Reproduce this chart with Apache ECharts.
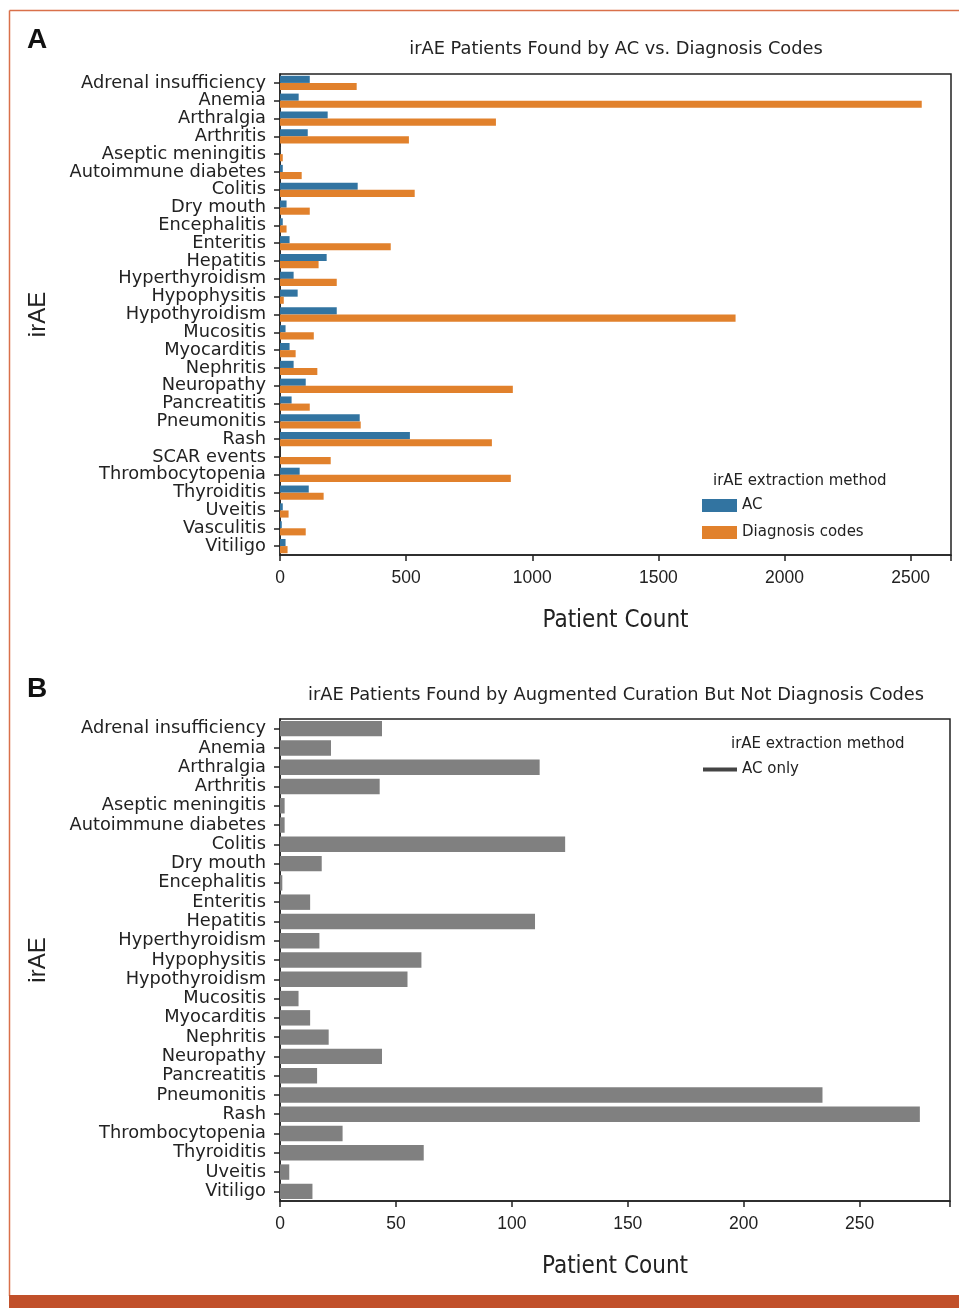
<!DOCTYPE html>
<html><head><meta charset="utf-8">
<script src="https://cdn.jsdelivr.net/npm/echarts@6/dist/echarts.min.js"></script>
<style>html,body{margin:0;padding:0;background:#fff}#c{width:959px;height:1308px}</style>
</head><body><div id="c"></div>
<script>
const categoriesA = ['Adrenal insufficiency','Anemia','Arthralgia','Arthritis','Aseptic meningitis','Autoimmune diabetes','Colitis','Dry mouth','Encephalitis','Enteritis','Hepatitis','Hyperthyroidism','Hypophysitis','Hypothyroidism','Mucositis','Myocarditis','Nephritis','Neuropathy','Pancreatitis','Pneumonitis','Rash','SCAR events','Thrombocytopenia','Thyroiditis','Uveitis','Vasculitis','Vitiligo'];
const acValues = [118,74,189,110,1,11,308,26,11,38,185,54,70,225,22,38,54,102,46,316,515,0,78,114,11,7,22];
const dxValues = [304,2544,856,511,11,86,534,118,26,439,153,225,15,1806,134,62,148,923,118,320,840,201,915,173,34,102,30];
const categoriesB = ['Adrenal insufficiency','Anemia','Arthralgia','Arthritis','Aseptic meningitis','Autoimmune diabetes','Colitis','Dry mouth','Encephalitis','Enteritis','Hepatitis','Hyperthyroidism','Hypophysitis','Hypothyroidism','Mucositis','Myocarditis','Nephritis','Neuropathy','Pancreatitis','Pneumonitis','Rash','Thrombocytopenia','Thyroiditis','Uveitis','Vitiligo'];
const acOnlyValues = [44,22,112,43,2,2,123,18,1,13,110,17,61,55,8,13,21,44,16,234,276,27,62,4,14];
const ticksA = [0,500,1000,1500,2000,2500];
const ticksB = [0,50,100,150,200,250];

const FONT = 'DejaVu Sans';
const NUMFONT = 'Liberation Sans';
const TXT = '#222';
function xAxisCfg(gridIndex, max, interval){
  return {type:'value', gridIndex, min:0, max, interval,
    name:'Patient Count', nameLocation:'middle', nameGap:54,
    nameTextStyle:{fontFamily:'DejaVu Sans Condensed', fontSize:24, color:TXT},
    axisLine:{show:true, lineStyle:{color:'#222', width:1.5}},
    axisTick:{show:true, length:6, lineStyle:{color:'#222', width:1.5}},
    axisLabel:{fontFamily:NUMFONT, fontSize:17.5, color:TXT, margin:14,
      formatter: v => v > max - 1 ? '' : String(v)},
    splitLine:{show:false}};
}
function yAxisCfg(gridIndex, data){
  return {type:'category', gridIndex, data, inverse:true,
    name:'irAE', nameLocation:'middle', nameGap:230,
    nameTextStyle:{fontFamily:NUMFONT, fontSize:24, color:TXT},
    axisLine:{show:true, lineStyle:{color:'#222', width:1.5}},
    axisTick:{show:true, length:6, alignWithLabel:true, lineStyle:{color:'#222', width:1.5}},
    axisLabel:{fontFamily:FONT, fontSize:17.8, color:TXT, margin:14, interval:0, lineHeight:17}};
}
const chart = echarts.init(document.getElementById('c'), null, {renderer:'canvas'});
chart.setOption({
  animation:false,
  backgroundColor:'#fff',
  title:[
    {text:'A', left:27, top:26, padding:0, textStyle:{fontFamily:NUMFONT, fontSize:28, fontWeight:'bold', color:'#111'}},
    {text:'B', left:27, top:675, padding:0, textStyle:{fontFamily:NUMFONT, fontSize:28, fontWeight:'bold', color:'#111'}},
    {text:'irAE Patients Found by AC vs. Diagnosis Codes', left:611, textAlign:'center', top:35, textStyle:{fontFamily:FONT, fontSize:17.8, fontWeight:'normal', color:TXT}},
    {text:'irAE Patients Found by Augmented Curation But Not Diagnosis Codes', left:611, textAlign:'center', top:681, textStyle:{fontFamily:FONT, fontSize:17.8, fontWeight:'normal', color:TXT}},
    {text:'irAE extraction method', left:713, top:474, padding:0, textStyle:{fontFamily:FONT, fontSize:15, fontWeight:'normal', color:TXT}},
    {text:'irAE extraction method', left:731, top:737, padding:0, textStyle:{fontFamily:FONT, fontSize:15, fontWeight:'normal', color:TXT}}
  ],
  legend:[
    {orient:'vertical', left:702, top:498, padding:0, itemWidth:35, itemHeight:13, itemGap:12, icon:'rect',
      data:['AC','Diagnosis codes'], textStyle:{fontFamily:FONT, fontSize:15, color:TXT}},
    {orient:'vertical', left:703, top:762, padding:0, itemWidth:34, itemHeight:4, icon:'rect',
      data:[{name:'AC only', itemStyle:{color:'#444'}}], textStyle:{fontFamily:FONT, fontSize:15, color:TXT}}
  ],
  grid:[
    {left:280, top:74, width:671, height:481, show:true, borderColor:'#222', borderWidth:1.5, backgroundColor:'transparent'},
    {left:280, top:719, width:670, height:482, show:true, borderColor:'#222', borderWidth:1.5, backgroundColor:'transparent'}
  ],
  xAxis:[xAxisCfg(0, 2660, 500), xAxisCfg(1, 289, 50)],
  yAxis:[yAxisCfg(0, categoriesA), yAxisCfg(1, categoriesB)],
  series:[
    {name:'AC', type:'bar', xAxisIndex:0, yAxisIndex:0, data:acValues, barGap:'0%', barCategoryGap:'20%', itemStyle:{color:'#3274a1'}},
    {name:'Diagnosis codes', type:'bar', xAxisIndex:0, yAxisIndex:0, data:dxValues, barGap:'0%', barCategoryGap:'20%', itemStyle:{color:'#e1812c'}},
    {name:'AC only', type:'bar', xAxisIndex:1, yAxisIndex:1, data:acOnlyValues, barCategoryGap:'20%', itemStyle:{color:'#808080'}}
  ],
  graphic:[
    {type:'line', shape:{x1:9.5, y1:10.5, x2:959, y2:10.5}, style:{stroke:'#d9704a', lineWidth:1.5}},
    {type:'line', shape:{x1:9.5, y1:10.5, x2:9.5, y2:1296}, style:{stroke:'#d9704a', lineWidth:1.5}},
    {type:'rect', shape:{x:9, y:1295, width:950, height:13}, style:{fill:'#c1502a'}}
  ]
});
</script></body></html>
